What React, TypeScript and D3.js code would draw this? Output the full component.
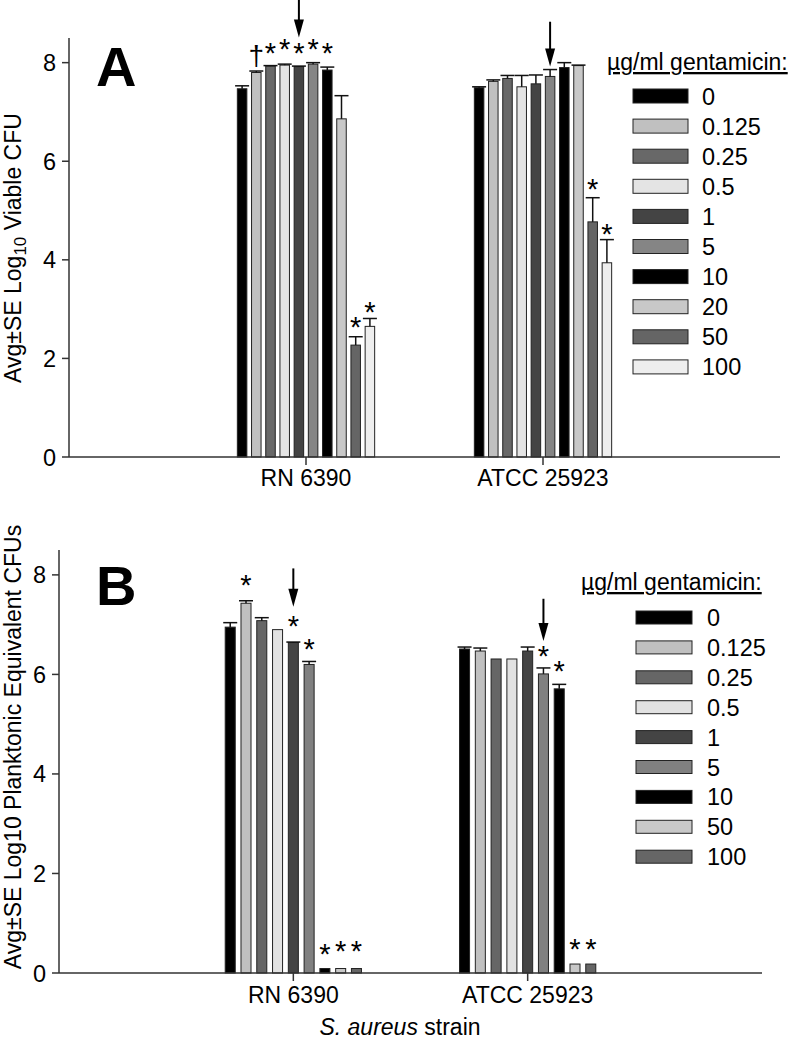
import React from "react";
import * as d3 from "d3";

const FONT = "'Liberation Sans', Arial, Helvetica, sans-serif";

const strains = ["RN 6390", "ATCC 25923"];
const yTicks = [0, 2, 4, 6, 8];

// Panel A
const concA = ["0", "0.125", "0.25", "0.5", "1", "5", "10", "20", "50", "100"];
const colorsA = ["#000000", "#c0c0c0", "#686868", "#e4e4e4", "#444444", "#858585", "#000000", "#c8c8c8", "#656565", "#eeeeee"];
const rnA = [7.47, 7.8, 7.93, 7.95, 7.92, 7.97, 7.85, 6.86, 2.27, 2.65];
const rnAErr = [0.06, 0.03, 0.01, 0.02, 0.01, 0.03, 0.06, 0.47, 0.17, 0.16];
const atccA = [7.49, 7.62, 7.68, 7.51, 7.57, 7.72, 7.9, 7.94, 4.77, 3.94];
const atccAErr = [0.02, 0.03, 0.06, 0.23, 0.18, 0.14, 0.1, 0.01, 0.49, 0.47];
const marksA = [
  { g: 0, s: 1, sym: "†", v: 8.12 },
  { g: 0, s: 2, sym: "*", v: 8.33 },
  { g: 0, s: 3, sym: "*", v: 8.41 },
  { g: 0, s: 4, sym: "*", v: 8.33 },
  { g: 0, s: 5, sym: "*", v: 8.41 },
  { g: 0, s: 6, sym: "*", v: 8.33 },
  { g: 0, s: 8, sym: "*", v: 2.78 },
  { g: 0, s: 9, sym: "*", v: 3.07 },
  { g: 1, s: 8, sym: "*", v: 5.58 },
  { g: 1, s: 9, sym: "*", v: 4.67 },
];
const arrowsA = [
  { g: 0, s: 4, from: 9.3, to: 8.51 },
  { g: 1, s: 5, from: 8.83, to: 7.92 },
];

// Panel B
const concB = ["0", "0.125", "0.25", "0.5", "1", "5", "10", "50", "100"];
const colorsB = ["#000000", "#c0c0c0", "#666666", "#e2e2e2", "#444444", "#808080", "#000000", "#c8c8c8", "#666666"];
const rnB = [6.95, 7.43, 7.08, 6.9, 6.64, 6.2, 0.09, 0.09, 0.09];
const rnBErr = [0.09, 0.05, 0.06, 0, 0.01, 0.06, 0, 0, 0];
const atccB = [6.51, 6.47, 6.31, 6.31, 6.47, 6.01, 5.71, 0.18, 0.18];
const atccBErr = [0.04, 0.06, 0, 0, 0.08, 0.12, 0.09, 0, 0];
const marksB = [
  { g: 0, s: 1, sym: "*", v: 7.94 },
  { g: 0, s: 4, sym: "*", v: 7.1 },
  { g: 0, s: 5, sym: "*", v: 6.65 },
  { g: 0, s: 6, sym: "*", v: 0.52 },
  { g: 0, s: 7, sym: "*", v: 0.58 },
  { g: 0, s: 8, sym: "*", v: 0.58 },
  { g: 1, s: 5, sym: "*", v: 6.51 },
  { g: 1, s: 6, sym: "*", v: 6.21 },
  { g: 1, s: 7, sym: "*", v: 0.62 },
  { g: 1, s: 8, sym: "*", v: 0.62 },
];
const arrowsB = [
  { g: 0, s: 4, from: 8.13, to: 7.36 },
  { g: 1, s: 5, from: 7.52, to: 6.67 },
];

type PanelProps = {
  letter: string;
  letterY: number;
  series: string[];
  colors: string[];
  values: number[][];
  errors: number[][];
  marks: { g: number; s: number; sym: string; v: number }[];
  arrows: { g: number; s: number; from: number; to: number }[];
  x0: number;
  x1: number;
  yTop: number;
  yBottom: number;
  half: number;
  pad: number;
  xLabelY: number;
  yTitle: React.ReactNode;
  yTitleY: number;
  legTitleX: number;
  legTitleY: number;
  swX: number;
  swW: number;
  swH: number;
  swY0: number;
  swPitch: number;
  legLabelX: number;
};

function Panel(p: PanelProps) {
  const x = d3.scalePoint<string>().domain(strains).range([p.x0, p.x1]).padding(1);
  const inner = d3
    .scaleBand<string>()
    .domain(p.series)
    .range([-p.half, p.half])
    .paddingInner(p.pad)
    .paddingOuter(p.pad / 2);
  const y = d3.scaleLinear().domain([0, 8.5]).range([p.yBottom, p.yTop]);
  const bw = inner.bandwidth();
  const cx = (g: number, s: number) => (x(strains[g]) as number) + (inner(p.series[s]) as number) + bw / 2;
  const axisColor = "#333";

  return (
    <g>
      {p.values.map((vals, g) =>
        vals.map((v, s) => {
          const bx = (x(strains[g]) as number) + (inner(p.series[s]) as number);
          return (
            <rect
              key={`b${g}-${s}`}
              x={bx}
              y={y(v)}
              width={bw}
              height={y(0) - y(v)}
              fill={p.colors[s]}
              stroke="#222"
              strokeWidth={1}
            />
          );
        })
      )}
      {p.errors.map((errs, g) =>
        errs.map((e, s) => {
          if (e <= 0) return null;
          const v = p.values[g][s];
          const c = cx(g, s);
          return (
            <g key={`e${g}-${s}`} stroke="#111" strokeWidth={1.5}>
              <line x1={c} x2={c} y1={y(v)} y2={y(v + e)} />
              <line x1={c - 7} x2={c + 7} y1={y(v + e)} y2={y(v + e)} />
            </g>
          );
        })
      )}
      {p.marks.map((m, i) => {
        const c = cx(m.g, m.s);
        const fs = m.sym === "*" ? 29 : 28;
        const off = m.sym === "*" ? 0.58 * fs : 0.3 * fs;
        return (
          <text key={`m${i}`} x={c} y={y(m.v) + off} textAnchor="middle" fontSize={fs} fill="#000">
            {m.sym}
          </text>
        );
      })}
      {p.arrows.map((a, i) => {
        const c = cx(a.g, a.s);
        const y1 = y(a.from);
        const y2 = y(a.to);
        return (
          <g key={`a${i}`}>
            <line x1={c} x2={c} y1={y1} y2={y2 - 12} stroke="#000" strokeWidth={2} />
            <path d={`M${c - 5},${y2 - 18} L${c + 5},${y2 - 18} L${c},${y2} Z`} fill="#000" />
          </g>
        );
      })}
      <line x1={p.x0} x2={p.x0} y1={p.yTop} y2={p.yBottom} stroke={axisColor} strokeWidth={1.5} />
      {yTicks.map((t) => (
        <g key={`yt${t}`}>
          <line x1={p.x0 - 7} x2={p.x0} y1={y(t)} y2={y(t)} stroke={axisColor} strokeWidth={1.5} />
          <text x={p.x0 - 13} y={y(t) + 8.5} textAnchor="end" fontSize={23.5}>
            {t}
          </text>
        </g>
      ))}
      <line x1={p.x0} x2={p.x1} y1={p.yBottom} y2={p.yBottom} stroke={axisColor} strokeWidth={1.5} />
      {strains.map((s) => (
        <g key={`xt${s}`}>
          <line x1={x(s)} x2={x(s)} y1={p.yBottom} y2={p.yBottom + 8} stroke={axisColor} strokeWidth={1.5} />
          <text x={x(s)} y={p.xLabelY} textAnchor="middle" fontSize={23}>
            {s}
          </text>
        </g>
      ))}
      <text transform={`translate(21, ${p.yTitleY}) rotate(-90)`} textAnchor="middle" fontSize={23}>
        {p.yTitle}
      </text>
      <text x={96} y={p.letterY} fontSize={56} fontWeight="bold">
        {p.letter}
      </text>
      <text x={p.legTitleX} y={p.legTitleY} fontSize={23} textDecoration="underline">
        µg/ml gentamicin:
      </text>
      {p.series.map((s, i) => {
        const ty = p.swY0 + i * p.swPitch;
        return (
          <g key={`l${s}`}>
            <rect x={p.swX} y={ty} width={p.swW} height={p.swH} fill={p.colors[i]} stroke="#222" strokeWidth={1} />
            <text x={p.legLabelX} y={ty + p.swH / 2 + 8.5} fontSize={23.5}>
              {s}
            </text>
          </g>
        );
      })}
    </g>
  );
}

export default function App() {
  return (
    <svg
      width={795}
      height={1050}
      style={{ position: "absolute", left: 0, top: 0, background: "#fff" }}
      fontFamily={FONT}
    >
      <rect width={795} height={1050} fill="#fff" />
      <Panel
        letter="A"
        letterY={86}
        series={concA}
        colors={colorsA}
        values={[rnA, atccA]}
        errors={[rnAErr, atccAErr]}
        marks={marksA}
        arrows={arrowsA}
        x0={69}
        x1={780}
        yTop={38}
        yBottom={457}
        half={71}
        pad={0.33}
        xLabelY={486}
        yTitle={
          <>
            Avg±SE Log
            <tspan fontSize={17} dy={5}>
              10
            </tspan>
            <tspan dy={-5}> Viable CFU</tspan>
          </>
        }
        yTitleY={248}
        legTitleX={607}
        legTitleY={70}
        swX={633}
        swW={55}
        swH={14}
        swY0={89}
        swPitch={30.1}
        legLabelX={702}
      />
      <Panel
        letter="B"
        letterY={605}
        series={concB}
        colors={colorsB}
        values={[rnB, atccB]}
        errors={[rnBErr, atccBErr]}
        marks={marksB}
        arrows={arrowsB}
        x0={59}
        x1={762}
        yTop={550}
        yBottom={973}
        half={71}
        pad={0.365}
        xLabelY={1003}
        yTitle={<>Avg±SE Log10 Planktonic Equivalent CFUs</>}
        yTitleY={747}
        legTitleX={581}
        legTitleY={590}
        swX={636}
        swW={56}
        swH={13}
        swY0={611}
        swPitch={29.9}
        legLabelX={707}
      />
      <text x={400} y={1035} textAnchor="middle" fontSize={23}>
        <tspan fontStyle="italic">S. aureus</tspan> strain
      </text>
    </svg>
  );
}
